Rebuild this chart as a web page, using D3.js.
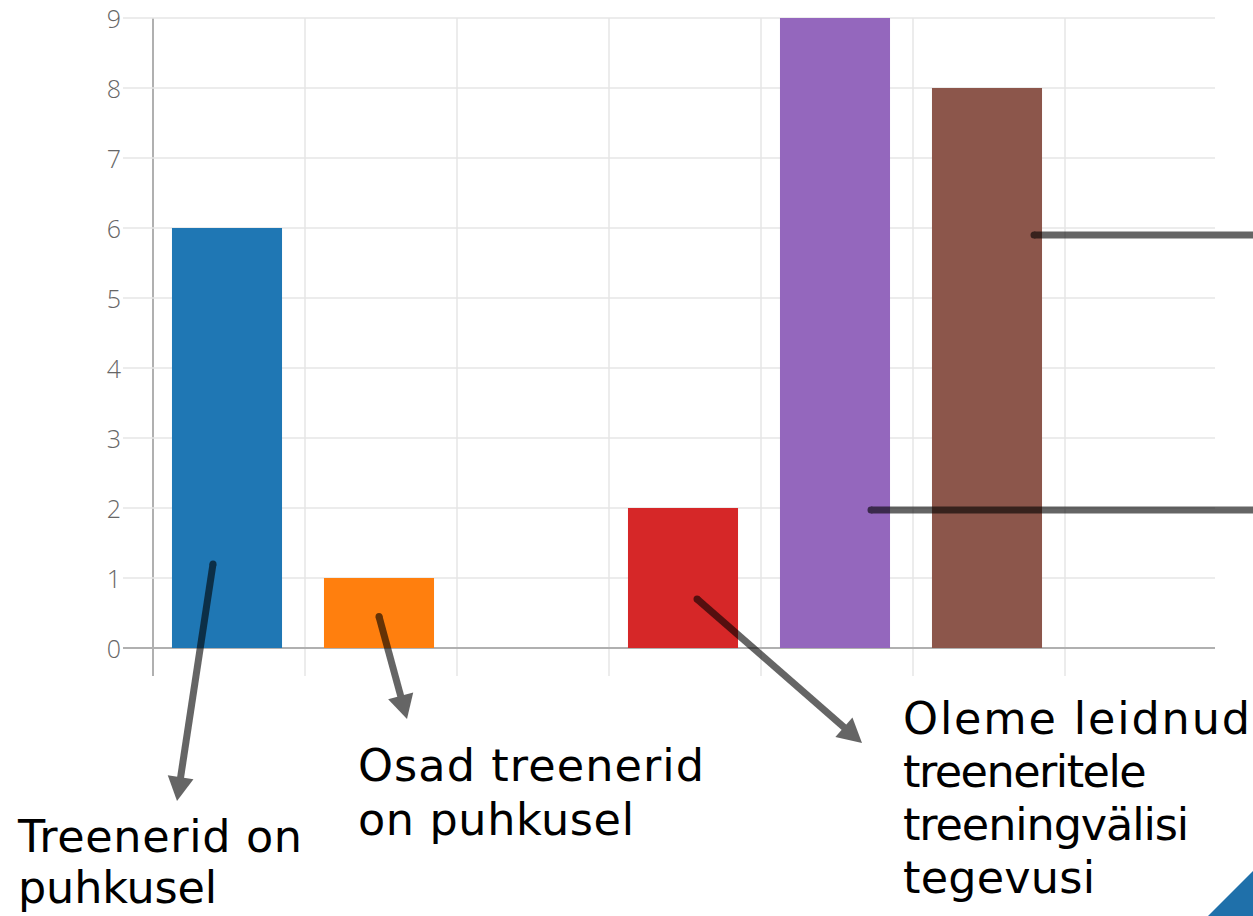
<!DOCTYPE html>
<html>
<head>
<meta charset="utf-8">
<script src="https://cdn.jsdelivr.net/npm/d3@7"></script>
<style>
  html, body { margin: 0; padding: 0; background: #ffffff; }
  svg { display: block; }
</style>
</head>
<body>
<svg id="chart" width="1253" height="916"></svg>
<script>
// ---- data ----
const categories = ["1", "2", "3", "4", "5", "6", "7"];
const values = [6, 1, 0, 2, 9, 8, 0];
const yTicks = [0, 1, 2, 3, 4, 5, 6, 7, 8, 9];
const annotationLines = [
  ["Treenerid on", "puhkusel"],
  ["Osad treenerid", "on puhkusel"],
  ["Oleme leidnud", "treeneritele", "treeningvälisi", "tegevusi"]
];

const W = 1253, H = 916;
const svg = d3.select("#chart");
svg.append("rect").attr("width", W).attr("height", H).attr("fill", "#fff");

// grid bands (boundaries) and bar positions
const xGrid = d3.scaleBand().domain(categories).range([153, 1217]).padding(0);
const x = d3.scaleBand().domain(categories).range([151, 1215])
  .paddingInner(0.276).paddingOuter(0.138);
const y = d3.scaleLinear().domain([0, 9]).range([648, 18]);
const color = d3.scaleOrdinal().domain(categories).range(d3.schemeCategory10);

const gridColor = "#e6e6e6";
const axisColor = "#b0b0b0";

// vertical grid lines (band boundaries)
const vgrid = svg.append("g");
categories.forEach((c, i) => {
  const gx = xGrid(c);
  vgrid.append("line")
    .attr("x1", gx).attr("x2", gx)
    .attr("y1", y(9)).attr("y2", y(0) + 28)
    .attr("stroke", i === 0 ? axisColor : gridColor)
    .attr("stroke-width", i === 0 ? 2 : 1.5);
});

// horizontal grid lines + y labels
const hgrid = svg.append("g");
yTicks.forEach(t => {
  hgrid.append("line")
    .attr("x1", 123).attr("x2", 1215)
    .attr("y1", y(t)).attr("y2", y(t))
    .attr("stroke", t === 0 ? axisColor : gridColor)
    .attr("stroke-width", t === 0 ? 2 : 1.5);
  hgrid.append("text")
    .attr("x", 121).attr("y", y(t))
    .attr("text-anchor", "end")
    .attr("dominant-baseline", "central")
    .attr("font-family", "'Open Sans', sans-serif")
    .attr("font-weight", 300)
    .attr("font-size", 25)
    .attr("fill", "#666")
    .text(t);
});

// bars
svg.append("g").selectAll("rect")
  .data(categories.map((c, i) => ({ c, v: values[i] })))
  .join("rect")
  .attr("x", d => x(d.c))
  .attr("width", x.bandwidth())
  .attr("y", d => y(d.v))
  .attr("height", d => y(0) - y(d.v))
  .attr("fill", d => color(d.c));

// ---- annotation arrows ----
function arrow(x1, y1, x2, y2, headed) {
  const g = svg.append("g").attr("opacity", 0.6);
  const dx = x2 - x1, dy = y2 - y1;
  const len = Math.hypot(dx, dy);
  const ux = dx / len, uy = dy / len;
  const hl = headed ? 24 : 0, hw = 13;
  const bx = x2 - ux * hl, by = y2 - uy * hl;
  g.append("line")
    .attr("x1", x1).attr("y1", y1)
    .attr("x2", headed ? bx + ux * 1 : x2).attr("y2", headed ? by + uy * 1 : y2)
    .attr("stroke", "#000").attr("stroke-width", 7);
  g.append("circle").attr("cx", x1).attr("cy", y1).attr("r", 3.5).attr("fill", "#000");
  if (headed) {
    const px = -uy, py = ux;
    g.append("path")
      .attr("d", `M${x2},${y2} L${bx + px * hw},${by + py * hw} L${bx - px * hw},${by - py * hw} Z`)
      .attr("fill", "#000");
  }
}

const cx = c => x(c) + x.bandwidth() / 2;
arrow(cx("1") - 14, y(1.2), 177, 801, true);
arrow(cx("2") - 0, y(0.45), 407, 719, true);
arrow(cx("4") + 14, y(0.7), 862, 743, true);
arrow(cx("6") + 47, y(5.9), W + 5, y(5.9), false);
arrow(cx("5") + 36, y(1.97), W + 5, y(1.97), false);

// ---- annotation texts ----
const textPos = [
  { x: 18, y: 852, lh: 51, widths: [284, 198] },
  { x: 358, y: 781, lh: 54, widths: [346, 276] },
  { x: 903, y: 734, lh: 53, widths: [347, 227, 272, 192] }
];
annotationLines.forEach((lines, i) => {
  const t = svg.append("text")
    .attr("font-family", "'DejaVu Sans', sans-serif")
    .attr("font-size", 44.5)
    .attr("fill", "#000");
  lines.forEach((s, j) => {
    const ts = t.append("tspan")
      .attr("x", textPos[i].x)
      .attr("y", textPos[i].y + j * textPos[i].lh)
      .text(s);
    const natural = ts.node().getComputedTextLength();
    const target = textPos[i].widths[j];
    const len = target >= natural ? target : (natural + target) / 2;
    ts.attr("textLength", len).attr("lengthAdjust", "spacing");
  });
});

// slide corner decoration
svg.append("path")
  .attr("d", `M1208,${H} L${W},${H} L${W},871 Z`)
  .attr("fill", "#1f70aa");
</script>
</body>
</html>
